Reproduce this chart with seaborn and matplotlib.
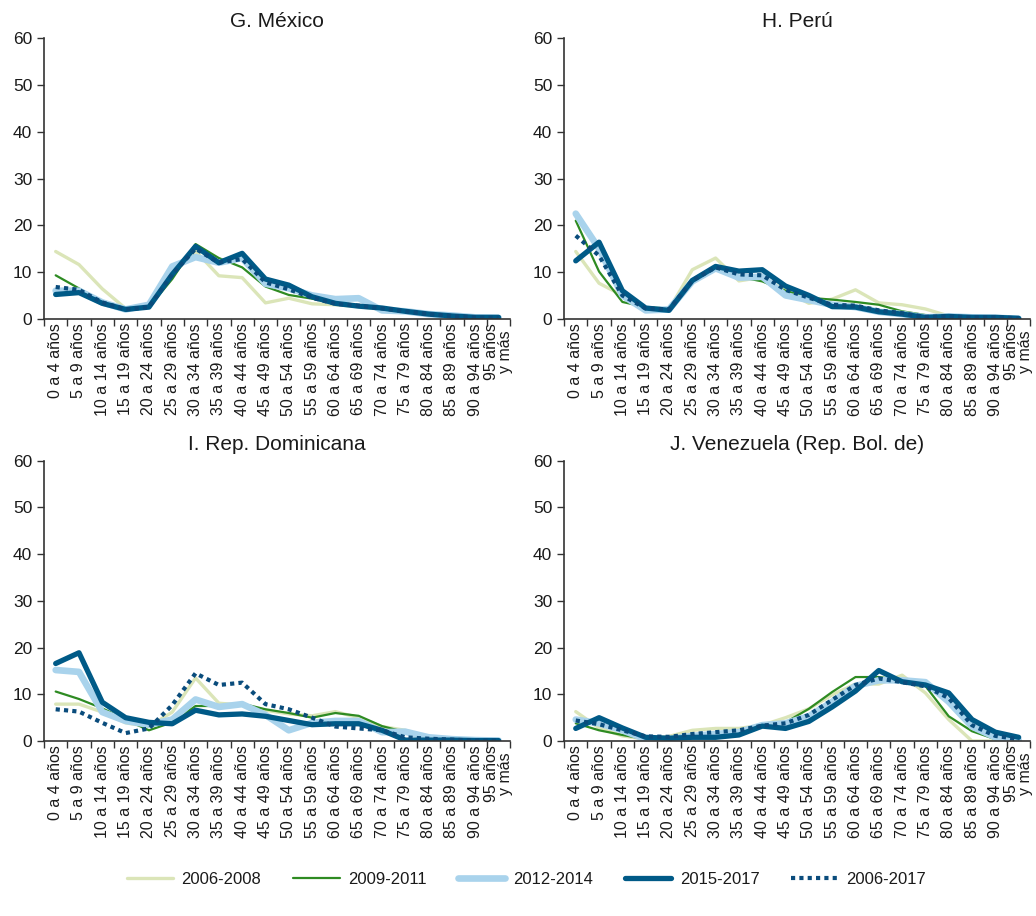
import matplotlib
matplotlib.use("Agg")
import matplotlib.pyplot as plt
import seaborn as sns
import pandas as pd
import numpy as np

grupos = ['0 a 4 años', '5 a 9 años', '10 a 14 años', '15 a 19 años', '20 a 24 años',
          '25 a 29 años', '30 a 34 años', '35 a 39 años', '40 a 44 años', '45 a 49 años',
          '50 a 54 años', '55 a 59 años', '60 a 64 años', '65 a 69 años', '70 a 74 años',
          '75 a 79 años', '80 a 84 años', '85 a 89 años', '90 a 94 años', '95 años\ny más']
periodos = ['2006-2008', '2009-2011', '2012-2014', '2015-2017', '2006-2017']
paises = ['G. México', 'H. Perú', 'I. Rep. Dominicana', 'J. Venezuela (Rep. Bol. de)']

# G. México
mex_0608 = [14.4, 11.6, 6.4, 2.2, 2.5, 9.5, 14.5, 9.2, 8.8, 3.4, 4.4, 3.2, 3.0, 2.6, 2.0, 1.5, 1.0, 0.6, 0.3, 0.2]
mex_0911 = [9.3, 6.5, 3.5, 2.0, 2.5, 8.5, 16.0, 13.0, 11.0, 6.9, 5.1, 4.3, 3.2, 2.8, 2.2, 1.5, 1.0, 0.6, 0.3, 0.2]
mex_1214 = [6.0, 6.0, 3.5, 2.0, 3.0, 11.2, 13.2, 12.0, 13.0, 7.5, 6.5, 5.0, 4.2, 4.4, 1.8, 1.6, 1.0, 0.7, 0.3, 0.2]
mex_1517 = [5.2, 5.6, 3.3, 2.0, 2.5, 9.5, 15.5, 12.0, 14.0, 8.5, 7.2, 4.7, 3.3, 2.7, 2.3, 1.6, 1.0, 0.6, 0.3, 0.3]
mex_0617 = [6.8, 6.2, 3.5, 2.0, 2.5, 9.5, 15.0, 12.0, 12.8, 7.8, 6.3, 4.5, 3.2, 2.8, 2.2, 1.6, 1.0, 0.6, 0.3, 0.2]

# H. Perú
per_0608 = [14.4, 7.6, 5.0, 2.3, 2.0, 10.5, 13.0, 8.1, 8.9, 6.0, 3.3, 4.2, 6.2, 3.4, 3.0, 2.1, 0.6, 0.4, 0.3, 0.1]
per_0911 = [21.0, 10.1, 3.6, 2.5, 2.2, 8.0, 11.0, 9.0, 8.0, 6.0, 4.5, 4.1, 3.6, 3.0, 1.6, 0.8, 0.6, 0.4, 0.3, 0.1]
per_1214 = [22.5, 15.0, 5.0, 1.8, 2.0, 8.0, 10.8, 8.8, 9.0, 5.0, 4.0, 3.0, 2.5, 1.5, 1.0, 0.3, 0.5, 0.3, 0.2, 0.0]
per_1517 = [12.4, 16.4, 6.0, 2.3, 1.8, 8.2, 11.2, 10.2, 10.5, 7.0, 5.0, 2.6, 2.5, 1.5, 1.0, 0.3, 0.5, 0.3, 0.3, 0.1]
per_0617 = [17.8, 13.5, 5.0, 2.2, 2.0, 8.2, 11.0, 9.5, 9.3, 6.2, 4.5, 3.0, 2.8, 1.8, 1.2, 0.4, 0.5, 0.3, 0.3, 0.1]

# I. Rep. Dominicana
dom_0608 = [7.9, 7.9, 6.2, 3.9, 3.1, 6.2, 13.5, 8.1, 7.7, 6.6, 5.8, 5.4, 6.3, 5.0, 3.1, 2.3, 0.8, 0.3, 0.2, 0.1]
dom_0911 = [10.6, 9.0, 7.0, 4.6, 2.3, 4.0, 7.5, 7.5, 8.0, 6.8, 6.0, 5.0, 6.0, 5.4, 3.2, 1.9, 0.8, 0.4, 0.2, 0.1]
dom_1214 = [15.2, 14.8, 6.2, 4.3, 3.5, 4.6, 8.9, 7.3, 7.9, 5.6, 2.3, 3.9, 4.3, 4.3, 1.9, 2.0, 0.8, 0.4, 0.2, 0.1]
dom_1517 = [16.6, 18.9, 8.3, 5.0, 4.0, 3.7, 6.6, 5.6, 5.8, 5.3, 4.4, 3.5, 3.7, 3.7, 2.3, 0.2, 0.2, 0.2, 0.1, 0.1]
dom_0617 = [6.8, 6.3, 3.9, 1.7, 2.7, 7.7, 14.5, 12.0, 12.5, 7.9, 6.8, 5.0, 3.1, 2.7, 2.3, 0.8, 0.5, 0.3, 0.1, 0.1]

# J. Venezuela
ven_0608 = [6.3, 2.8, 1.1, 0.4, 1.0, 2.3, 2.7, 2.7, 3.4, 5.0, 6.9, 9.9, 12.2, 12.2, 14.1, 10.3, 4.6, 0.0, 0.0, 0.0]
ven_0911 = [3.8, 2.3, 1.3, 0.4, 0.5, 1.3, 1.8, 2.1, 3.4, 4.0, 6.9, 10.5, 13.7, 13.7, 13.0, 11.8, 5.3, 2.1, 0.4, 0.2]
ven_1214 = [4.6, 3.8, 2.3, 0.4, 0.4, 1.1, 1.5, 1.9, 3.4, 3.8, 5.3, 8.4, 11.8, 13.0, 13.0, 12.6, 8.4, 3.1, 0.8, 0.2]
ven_1517 = [2.7, 5.0, 2.8, 0.8, 0.6, 0.8, 0.8, 1.3, 3.2, 2.7, 4.2, 7.3, 10.7, 15.1, 12.7, 12.0, 10.3, 4.6, 1.9, 0.8]
ven_0617 = [4.4, 3.6, 2.3, 1.0, 0.9, 1.5, 1.9, 2.3, 3.3, 3.8, 5.6, 8.8, 12.0, 13.4, 12.6, 11.7, 9.2, 3.4, 1.1, 0.4]

series = {
    paises[0]: [mex_0608, mex_0911, mex_1214, mex_1517, mex_0617],
    paises[1]: [per_0608, per_0911, per_1214, per_1517, per_0617],
    paises[2]: [dom_0608, dom_0911, dom_1214, dom_1517, dom_0617],
    paises[3]: [ven_0608, ven_0911, ven_1214, ven_1517, ven_0617],
}

estilos = {
    '2006-2008': dict(color='#dbe5b8', lw=2.4, ls='-'),
    '2009-2011': dict(color='#2e8b22', lw=1.6, ls='-'),
    '2012-2014': dict(color='#a9d3ec', lw=4.8, ls='-'),
    '2015-2017': dict(color='#005a87', lw=3.8, ls='-'),
    '2006-2017': dict(color='#0a4c7c', lw=3.0, ls=(0, (1, 1))),
}

sns.set_style('white')
plt.rcParams['font.family'] = ['Liberation Sans', 'DejaVu Sans']
plt.rcParams['text.color'] = '#1a1a1a'
plt.rcParams['xtick.color'] = '#1a1a1a'
plt.rcParams['ytick.color'] = '#1a1a1a'

fig = plt.figure(figsize=(10.36, 9.16), dpi=100)
posiciones = [[0.0425, 0.652, 0.45, 0.306], [0.5445, 0.652, 0.45, 0.306],
              [0.0425, 0.191, 0.45, 0.306], [0.5445, 0.191, 0.45, 0.306]]

x = np.arange(len(grupos))
for pais, pos in zip(paises, posiciones):
    ax = fig.add_axes(pos)
    for periodo, vals in zip(periodos, series[pais]):
        df = pd.DataFrame({'x': x, 'y': vals})
        st = estilos[periodo]
        sns.lineplot(data=df, x='x', y='y', ax=ax, color=st['color'], linewidth=st['lw'],
                     linestyle=st['ls'], label=periodo, legend=False)
    ax.set_xlim(-0.5, len(grupos) - 0.5)
    ax.set_ylim(0, 60)
    ax.set_yticks(range(0, 61, 10))
    ax.set_xticks(x)
    ax.set_xticklabels(grupos, rotation=90, fontsize=11.5, linespacing=0.9)
    ax.set_xticks(np.arange(-0.5, len(grupos), 1), minor=True)
    ax.tick_params(axis='x', which='major', length=0, pad=3)
    ax.tick_params(axis='x', which='minor', length=5, width=1, color='#333333', direction='out', bottom=True)
    ax.tick_params(axis='y', length=5, width=1, color='#333333', direction='out', left=True, labelsize=12.5)
    ax.set_xlabel('')
    ax.set_ylabel('')
    ax.set_title(pais, fontsize=15, pad=8)
    for s in ['top', 'right']:
        ax.spines[s].set_visible(False)
    for s in ['left', 'bottom']:
        ax.spines[s].set_color('#333333')
        ax.spines[s].set_linewidth(1.2)

handles, labels = ax.get_legend_handles_labels()
fig.legend(handles, labels, loc='center', bbox_to_anchor=(0.508, 0.04), ncol=5, frameon=False,
           fontsize=12, handlelength=2.8, handletextpad=0.5, columnspacing=1.9)

fig.savefig('out.png', dpi=100)
